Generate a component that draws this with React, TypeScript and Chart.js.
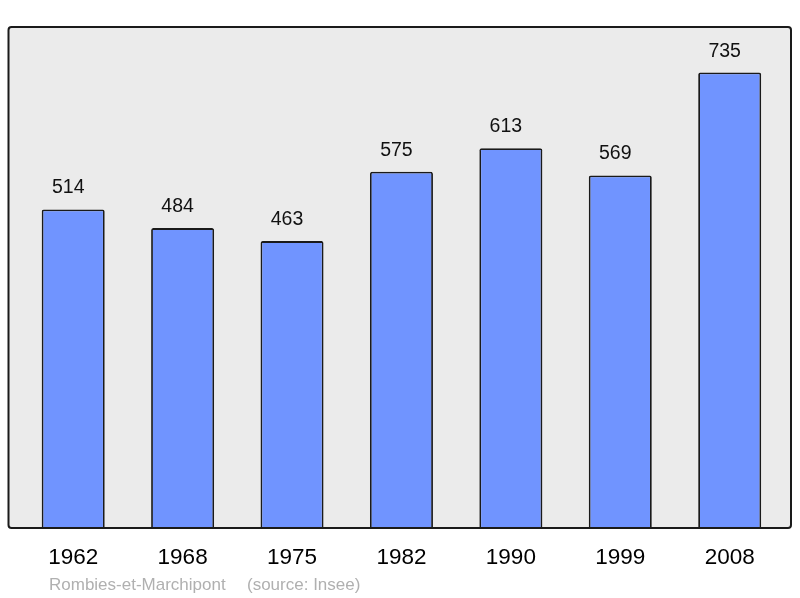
import React, { useEffect, useRef } from 'react';
import { Chart, registerables, Plugin } from 'chart.js';

Chart.register(...registerables);

const years: string[] = ['1962', '1968', '1975', '1982', '1990', '1999', '2008'];
const population: number[] = [514, 484, 463, 575, 613, 569, 735];
const footerPlace = 'Rombies-et-Marchipont';
const footerSource = '(source: Insee)';

const FONT = '"Liberation Sans", Arial, sans-serif';

// gray panel behind the bars, frame on top of them
const framePlugin: Plugin<'bar'> = {
  id: 'frame',
  beforeDatasetsDraw(chart) {
    const { ctx, chartArea } = chart;
    ctx.save();
    ctx.beginPath();
    ctx.roundRect(8.5, chartArea.top, 791 - 8.5, chartArea.bottom - chartArea.top, 3);
    ctx.fillStyle = '#ebebeb';
    ctx.fill();
    ctx.restore();
  },
  afterDatasetsDraw(chart) {
    const { ctx, chartArea } = chart;
    ctx.save();
    ctx.beginPath();
    ctx.roundRect(8.5, chartArea.top, 791 - 8.5, chartArea.bottom - chartArea.top, 3);
    ctx.lineWidth = 2;
    ctx.strokeStyle = '#1a1a1a';
    ctx.stroke();

    // value labels above each bar
    const meta = chart.getDatasetMeta(0);
    ctx.font = `19.5px ${FONT}`;
    ctx.fillStyle = '#111';
    ctx.textAlign = 'center';
    ctx.textBaseline = 'alphabetic';
    meta.data.forEach((bar, i) => {
      ctx.fillText(String(population[i]), bar.x - 5, bar.y - 16);
    });

    // footer
    ctx.font = `17px ${FONT}`;
    ctx.fillStyle = '#b0b0b0';
    ctx.textAlign = 'left';
    ctx.fillText(footerPlace, 49, 590);
    ctx.fillText(footerSource, 247, 590);
    ctx.restore();
  },
};

const App: React.FC = () => {
  const canvasRef = useRef<HTMLCanvasElement>(null);
  const chartRef = useRef<Chart<'bar'>>();

  useEffect(() => {
    if (!canvasRef.current) return;
    chartRef.current = new Chart(canvasRef.current, {
      type: 'bar',
      data: {
        labels: years,
        datasets: [
          {
            data: population,
            backgroundColor: '#7094ff',
            borderColor: '#1a1a1a',
            borderWidth: 1.8,
            borderRadius: 2,
            borderSkipped: 'bottom',
            barPercentage: 0.576,
            categoryPercentage: 1,
          },
        ],
      },
      options: {
        animation: false,
        responsive: false,
        devicePixelRatio: 1,
        layout: { padding: { left: 18.5, right: 15.6, top: 27, bottom: 0 } },
        plugins: { legend: { display: false }, tooltip: { enabled: false } },
        scales: {
          x: {
            grid: { display: false },
            border: { display: false },
            ticks: {
              color: '#000',
              font: { family: FONT, size: 22.5 },
              padding: 8,
              maxRotation: 0,
            },
            afterFit: (scale) => {
              scale.height = 70;
            },
          },
          y: {
            display: false,
            min: 0,
            max: 808.5,
          },
        },
      },
      plugins: [framePlugin],
    });
    return () => {
      chartRef.current?.destroy();
    };
  }, []);

  return (
    <div style={{ position: 'fixed', left: 0, top: 0, width: 800, height: 598, background: '#fff' }}>
      <canvas ref={canvasRef} width={800} height={598} />
    </div>
  );
};

export default App;
